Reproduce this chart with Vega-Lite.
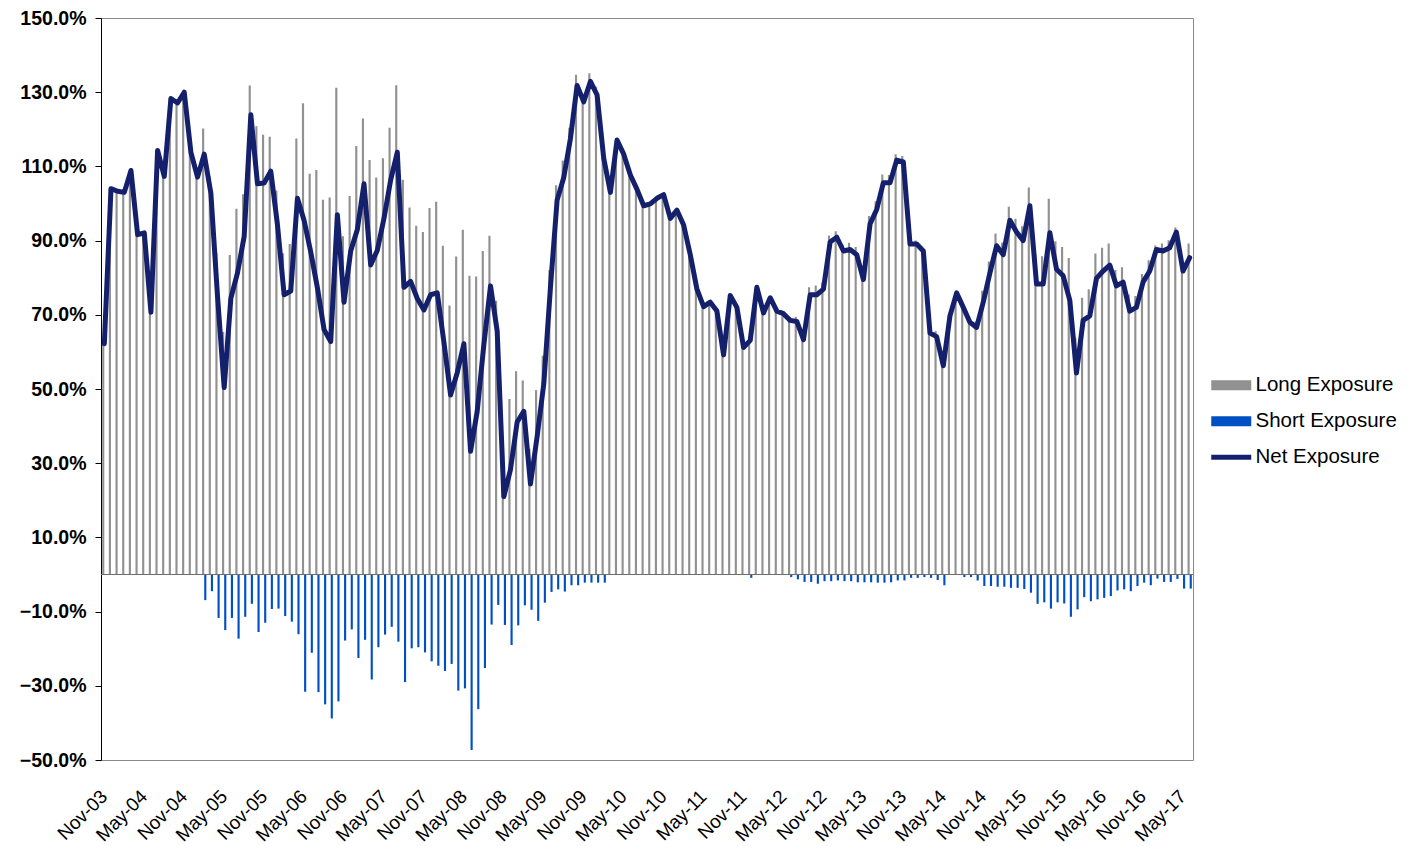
{
 "$schema": "https://vega.github.io/schema/vega-lite/v6.json",
 "width": 1092,
 "height": 742,
 "autosize": {"type": "none"},
 "padding": {"left": 101, "top": 18, "right": 221, "bottom": 86},
 "background": "white",
 "config": {"font": "Liberation Sans", "view": {"stroke": "#8a8a8a", "strokeWidth": 1}, "axis": {"grid": false}},
 "data": {"values": [
{"i":0,"m":"Nov-03","long":62.2,"short":0,"net":62.2},
{"i":1,"m":"Dec-03","long":104.0,"short":0,"net":104.0},
{"i":2,"m":"Jan-04","long":103.3,"short":0,"net":103.3},
{"i":3,"m":"Feb-04","long":103.0,"short":0,"net":103.0},
{"i":4,"m":"Mar-04","long":108.9,"short":0,"net":108.9},
{"i":5,"m":"Apr-04","long":91.6,"short":0,"net":91.6},
{"i":6,"m":"May-04","long":92.1,"short":0,"net":92.1},
{"i":7,"m":"Jun-04","long":70.7,"short":0,"net":70.7},
{"i":8,"m":"Jul-04","long":114.3,"short":0,"net":114.3},
{"i":9,"m":"Aug-04","long":107.3,"short":0,"net":107.3},
{"i":10,"m":"Sep-04","long":128.3,"short":0,"net":128.3},
{"i":11,"m":"Oct-04","long":127.1,"short":0,"net":127.1},
{"i":12,"m":"Nov-04","long":130.0,"short":0,"net":130.0},
{"i":13,"m":"Dec-04","long":113.8,"short":0,"net":113.8},
{"i":14,"m":"Jan-05","long":107.1,"short":0,"net":107.1},
{"i":15,"m":"Feb-05","long":120.2,"short":-6.9,"net":113.3},
{"i":16,"m":"Mar-05","long":107.3,"short":-4.5,"net":102.8},
{"i":17,"m":"Apr-05","long":86.7,"short":-11.7,"net":75.0},
{"i":18,"m":"May-05","long":65.4,"short":-15.0,"net":50.4},
{"i":19,"m":"Jun-05","long":86.1,"short":-11.7,"net":74.4},
{"i":20,"m":"Jul-05","long":98.6,"short":-17.3,"net":81.3},
{"i":21,"m":"Aug-05","long":102.5,"short":-11.4,"net":91.1},
{"i":22,"m":"Sep-05","long":131.8,"short":-7.9,"net":123.9},
{"i":23,"m":"Oct-05","long":120.8,"short":-15.5,"net":105.3},
{"i":24,"m":"Nov-05","long":118.5,"short":-13.0,"net":105.5},
{"i":25,"m":"Dec-05","long":118.0,"short":-9.3,"net":108.7},
{"i":26,"m":"Jan-06","long":103.5,"short":-9.2,"net":94.3},
{"i":27,"m":"Feb-06","long":86.6,"short":-11.2,"net":75.4},
{"i":28,"m":"Mar-06","long":89.1,"short":-12.7,"net":76.4},
{"i":29,"m":"Apr-06","long":117.5,"short":-16.1,"net":101.4},
{"i":30,"m":"May-06","long":127.0,"short":-31.6,"net":95.4},
{"i":31,"m":"Jun-06","long":108.0,"short":-21.1,"net":86.9},
{"i":32,"m":"Jul-06","long":109.0,"short":-31.7,"net":77.3},
{"i":33,"m":"Aug-06","long":101.0,"short":-35.0,"net":66.0},
{"i":34,"m":"Sep-06","long":101.6,"short":-38.8,"net":62.8},
{"i":35,"m":"Oct-06","long":131.2,"short":-34.2,"net":97.0},
{"i":36,"m":"Nov-06","long":91.2,"short":-17.8,"net":73.4},
{"i":37,"m":"Dec-06","long":102.0,"short":-14.8,"net":87.2},
{"i":38,"m":"Jan-07","long":115.5,"short":-22.5,"net":93.0},
{"i":39,"m":"Feb-07","long":122.9,"short":-17.6,"net":105.3},
{"i":40,"m":"Mar-07","long":111.7,"short":-28.3,"net":83.4},
{"i":41,"m":"Apr-07","long":107.0,"short":-19.6,"net":87.4},
{"i":42,"m":"May-07","long":112.2,"short":-16.2,"net":96.0},
{"i":43,"m":"Jun-07","long":120.4,"short":-14.1,"net":106.3},
{"i":44,"m":"Jul-07","long":131.9,"short":-18.1,"net":113.8},
{"i":45,"m":"Aug-07","long":106.4,"short":-29.0,"net":77.4},
{"i":46,"m":"Sep-07","long":98.9,"short":-19.9,"net":79.0},
{"i":47,"m":"Oct-07","long":94.0,"short":-19.6,"net":74.4},
{"i":48,"m":"Nov-07","long":92.3,"short":-21.0,"net":71.3},
{"i":49,"m":"Dec-07","long":98.8,"short":-23.4,"net":75.4},
{"i":50,"m":"Jan-08","long":100.5,"short":-24.6,"net":75.9},
{"i":51,"m":"Feb-08","long":88.6,"short":-26.0,"net":62.6},
{"i":52,"m":"Mar-08","long":72.5,"short":-24.1,"net":48.4},
{"i":53,"m":"Apr-08","long":85.7,"short":-31.3,"net":54.4},
{"i":54,"m":"May-08","long":92.9,"short":-30.7,"net":62.2},
{"i":55,"m":"Jun-08","long":80.5,"short":-47.3,"net":33.2},
{"i":56,"m":"Jul-08","long":80.3,"short":-36.3,"net":44.0},
{"i":57,"m":"Aug-08","long":87.2,"short":-25.2,"net":62.0},
{"i":58,"m":"Sep-08","long":91.3,"short":-13.5,"net":77.8},
{"i":59,"m":"Oct-08","long":73.8,"short":-8.2,"net":65.6},
{"i":60,"m":"Nov-08","long":34.6,"short":-13.6,"net":21.0},
{"i":61,"m":"Dec-08","long":47.3,"short":-19.0,"net":28.3},
{"i":62,"m":"Jan-09","long":54.8,"short":-13.7,"net":41.1},
{"i":63,"m":"Feb-09","long":52.3,"short":-8.3,"net":44.0},
{"i":64,"m":"Mar-09","long":33.9,"short":-9.5,"net":24.4},
{"i":65,"m":"Apr-09","long":49.7,"short":-12.5,"net":37.2},
{"i":66,"m":"May-09","long":59.0,"short":-7.6,"net":51.4},
{"i":67,"m":"Jun-09","long":82.1,"short":-4.7,"net":77.4},
{"i":68,"m":"Jul-09","long":104.9,"short":-4.0,"net":100.9},
{"i":69,"m":"Aug-09","long":111.6,"short":-4.6,"net":107.0},
{"i":70,"m":"Sep-09","long":120.4,"short":-2.9,"net":117.5},
{"i":71,"m":"Oct-09","long":134.7,"short":-2.9,"net":131.8},
{"i":72,"m":"Nov-09","long":129.6,"short":-2.2,"net":127.4},
{"i":73,"m":"Dec-09","long":135.1,"short":-2.2,"net":132.9},
{"i":74,"m":"Jan-10","long":131.5,"short":-2.2,"net":129.3},
{"i":75,"m":"Feb-10","long":114.4,"short":-2.2,"net":112.2},
{"i":76,"m":"Mar-10","long":103.0,"short":0,"net":103.0},
{"i":77,"m":"Apr-10","long":117.1,"short":0,"net":117.1},
{"i":78,"m":"May-10","long":113.3,"short":0,"net":113.3},
{"i":79,"m":"Jun-10","long":107.7,"short":0,"net":107.7},
{"i":80,"m":"Jul-10","long":103.8,"short":0,"net":103.8},
{"i":81,"m":"Aug-10","long":99.4,"short":0,"net":99.4},
{"i":82,"m":"Sep-10","long":99.9,"short":0,"net":99.9},
{"i":83,"m":"Oct-10","long":101.4,"short":0,"net":101.4},
{"i":84,"m":"Nov-10","long":102.4,"short":0,"net":102.4},
{"i":85,"m":"Dec-10","long":96.0,"short":0,"net":96.0},
{"i":86,"m":"Jan-11","long":98.2,"short":0,"net":98.2},
{"i":87,"m":"Feb-11","long":94.2,"short":0,"net":94.2},
{"i":88,"m":"Mar-11","long":86.2,"short":0,"net":86.2},
{"i":89,"m":"Apr-11","long":76.9,"short":0,"net":76.9},
{"i":90,"m":"May-11","long":72.2,"short":0,"net":72.2},
{"i":91,"m":"Jun-11","long":73.4,"short":0,"net":73.4},
{"i":92,"m":"Jul-11","long":71.0,"short":0,"net":71.0},
{"i":93,"m":"Aug-11","long":59.2,"short":0,"net":59.2},
{"i":94,"m":"Sep-11","long":75.2,"short":0,"net":75.2},
{"i":95,"m":"Oct-11","long":72.0,"short":0,"net":72.0},
{"i":96,"m":"Nov-11","long":61.2,"short":0,"net":61.2},
{"i":97,"m":"Dec-11","long":64.0,"short":-0.9,"net":63.1},
{"i":98,"m":"Jan-12","long":77.4,"short":0,"net":77.4},
{"i":99,"m":"Feb-12","long":70.5,"short":0,"net":70.5},
{"i":100,"m":"Mar-12","long":74.6,"short":0,"net":74.6},
{"i":101,"m":"Apr-12","long":71.0,"short":0,"net":71.0},
{"i":102,"m":"May-12","long":70.3,"short":0,"net":70.3},
{"i":103,"m":"Jun-12","long":69.2,"short":-0.7,"net":68.5},
{"i":104,"m":"Jul-12","long":69.5,"short":-1.3,"net":68.2},
{"i":105,"m":"Aug-12","long":65.3,"short":-2.0,"net":63.3},
{"i":106,"m":"Sep-12","long":77.4,"short":-2.0,"net":75.4},
{"i":107,"m":"Oct-12","long":77.9,"short":-2.5,"net":75.4},
{"i":108,"m":"Nov-12","long":78.7,"short":-1.8,"net":76.9},
{"i":109,"m":"Dec-12","long":91.4,"short":-1.8,"net":89.6},
{"i":110,"m":"Jan-13","long":92.5,"short":-1.6,"net":90.9},
{"i":111,"m":"Feb-13","long":89.0,"short":-1.8,"net":87.2},
{"i":112,"m":"Mar-13","long":89.4,"short":-1.8,"net":87.6},
{"i":113,"m":"Apr-13","long":88.3,"short":-2.1,"net":86.2},
{"i":114,"m":"May-13","long":81.6,"short":-2.1,"net":79.5},
{"i":115,"m":"Jun-13","long":96.6,"short":-2.1,"net":94.5},
{"i":116,"m":"Jul-13","long":100.6,"short":-2.2,"net":98.4},
{"i":117,"m":"Aug-13","long":107.8,"short":-2.2,"net":105.6},
{"i":118,"m":"Sep-13","long":107.7,"short":-2.1,"net":105.6},
{"i":119,"m":"Oct-13","long":113.3,"short":-1.6,"net":111.7},
{"i":120,"m":"Nov-13","long":112.8,"short":-1.6,"net":111.2},
{"i":121,"m":"Dec-13","long":90.0,"short":-0.9,"net":89.1},
{"i":122,"m":"Jan-14","long":90.0,"short":-0.9,"net":89.1},
{"i":123,"m":"Feb-14","long":87.9,"short":-0.7,"net":87.2},
{"i":124,"m":"Mar-14","long":66.0,"short":-0.9,"net":65.1},
{"i":125,"m":"Apr-14","long":65.6,"short":-1.5,"net":64.1},
{"i":126,"m":"May-14","long":59.2,"short":-2.9,"net":56.3},
{"i":127,"m":"Jun-14","long":69.7,"short":0,"net":69.7},
{"i":128,"m":"Jul-14","long":75.9,"short":0,"net":75.9},
{"i":129,"m":"Aug-14","long":72.7,"short":-0.7,"net":72.0},
{"i":130,"m":"Sep-14","long":68.7,"short":-0.7,"net":68.0},
{"i":131,"m":"Oct-14","long":68.2,"short":-1.6,"net":66.6},
{"i":132,"m":"Nov-14","long":76.5,"short":-3.1,"net":73.4},
{"i":133,"m":"Dec-14","long":84.4,"short":-3.1,"net":81.3},
{"i":134,"m":"Jan-15","long":91.9,"short":-3.3,"net":88.6},
{"i":135,"m":"Feb-15","long":89.5,"short":-3.3,"net":86.2},
{"i":136,"m":"Mar-15","long":99.1,"short":-3.6,"net":95.5},
{"i":137,"m":"Apr-15","long":95.9,"short":-3.6,"net":92.3},
{"i":138,"m":"May-15","long":93.9,"short":-3.9,"net":90.0},
{"i":139,"m":"Jun-15","long":104.3,"short":-4.9,"net":99.4},
{"i":140,"m":"Jul-15","long":86.2,"short":-7.9,"net":78.3},
{"i":141,"m":"Aug-15","long":85.8,"short":-7.5,"net":78.3},
{"i":142,"m":"Sep-15","long":101.3,"short":-9.2,"net":92.1},
{"i":143,"m":"Oct-15","long":89.8,"short":-7.5,"net":82.3},
{"i":144,"m":"Nov-15","long":88.3,"short":-7.8,"net":80.5},
{"i":145,"m":"Dec-15","long":85.3,"short":-11.4,"net":73.9},
{"i":146,"m":"Jan-16","long":63.7,"short":-9.4,"net":54.3},
{"i":147,"m":"Feb-16","long":74.6,"short":-6.1,"net":68.5},
{"i":148,"m":"Mar-16","long":76.9,"short":-7.2,"net":69.7},
{"i":149,"m":"Apr-16","long":86.5,"short":-6.7,"net":79.8},
{"i":150,"m":"May-16","long":88.1,"short":-6.3,"net":81.8},
{"i":151,"m":"Jun-16","long":89.2,"short":-5.8,"net":83.4},
{"i":152,"m":"Jul-16","long":82.1,"short":-4.3,"net":77.8},
{"i":153,"m":"Aug-16","long":82.8,"short":-4.0,"net":78.8},
{"i":154,"m":"Sep-16","long":75.5,"short":-4.5,"net":71.0},
{"i":155,"m":"Oct-16","long":75.1,"short":-3.1,"net":72.0},
{"i":156,"m":"Nov-16","long":81.0,"short":-2.2,"net":78.8},
{"i":157,"m":"Dec-16","long":84.7,"short":-2.9,"net":81.8},
{"i":158,"m":"Jan-17","long":88.7,"short":-1.1,"net":87.6},
{"i":159,"m":"Feb-17","long":89.2,"short":-2.0,"net":87.2},
{"i":160,"m":"Mar-17","long":90.1,"short":-2.0,"net":88.1},
{"i":161,"m":"Apr-17","long":93.5,"short":-1.2,"net":92.3},
{"i":162,"m":"May-17","long":85.6,"short":-3.8,"net":81.8},
{"i":163,"m":"Jun-17","long":89.2,"short":-3.8,"net":85.4}
 ]},
 "layer": [
  {
   "transform": [{"fold": ["long", "short"], "as": ["series", "value"]}],
   "mark": {"type": "bar"},
   "encoding": {
    "x": {"field": "m", "type": "ordinal", "sort": {"field": "i", "op": "min"},
     "scale": {"paddingInner": 0, "paddingOuter": 0},
     "axis": {"title": null, "values": ["Nov-03","May-04","Nov-04","May-05","Nov-05","May-06","Nov-06","May-07","Nov-07","May-08","Nov-08","May-09","Nov-09","May-10","Nov-10","May-11","Nov-11","May-12","Nov-12","May-13","Nov-13","May-14","Nov-14","May-15","Nov-15","May-16","Nov-16","May-17"],
      "labelAngle": -45, "labelAlign": "right", "labelBaseline": "middle", "labelFontSize": 19, "labelColor": "#000000", "labelPadding": 33, "labelOverlap": false, "domain": false, "ticks": false, "labelDx": -8}},
    "xOffset": {"field": "series", "type": "nominal", "sort": ["long", "short"], "scale": {"paddingInner": 0, "paddingOuter": 0.55}},
    "y": {"field": "value", "type": "quantitative",
     "scale": {"domain": [-50, 150], "nice": false, "zero": false},
     "axis": {"title": null, "values": [-50, -30, -10, 10, 30, 50, 70, 90, 110, 130, 150], "labelExpr": "format(datum.value, '.1f') + '%'", "labelFontSize": 19.5, "labelFontWeight": "bold", "labelColor": "#000000", "domainColor": "#000000", "tickColor": "#000000", "tickSize": 6, "labelPadding": 9}},
    "color": {"field": "series", "type": "nominal",
     "scale": {"domain": ["long", "short", "net"], "range": ["#919191", "#0050c4", "#15206c"]},
     "legend": {"orient": "none", "legendX": 1120, "legendY": 357, "title": null,
      "labelExpr": "datum.value === 'long' ? 'Long Exposure' : datum.value === 'short' ? 'Short Exposure' : 'Net Exposure'",
      "labelFontSize": 20.5, "labelColor": "#000000", "labelOffset": 14, "symbolSize": 400, "rowPadding": 15, "padding": 0,
      "encode": {"symbols": {"update": {
       "shape": {"signal": "datum.value === 'net' ? 'M-2,-0.24H2V0.24H-2Z' : 'M-2,-0.5H2V0.5H-2Z'"},
       "fill": {"signal": "datum.value === 'long' ? '#919191' : datum.value === 'short' ? '#0050c4' : '#15206c'"},
       "stroke": {"value": "transparent"}, "strokeWidth": {"value": 0}, "opacity": {"value": 1}, "fillOpacity": {"value": 1}}}}}}
   }
  },
  {
   "data": {"values": [{}]},
   "mark": {"type": "rule", "color": "#6e6e6e", "strokeWidth": 1},
   "encoding": {"y": {"datum": 0}}
  },
  {
   "mark": {"type": "line", "strokeWidth": 5, "strokeJoin": "round", "strokeCap": "round"},
   "encoding": {
    "x": {"field": "m", "type": "ordinal", "sort": {"field": "i", "op": "min"}},
    "y": {"field": "net", "type": "quantitative"},
    "color": {"datum": "net"}
   }
  }
 ]
}
